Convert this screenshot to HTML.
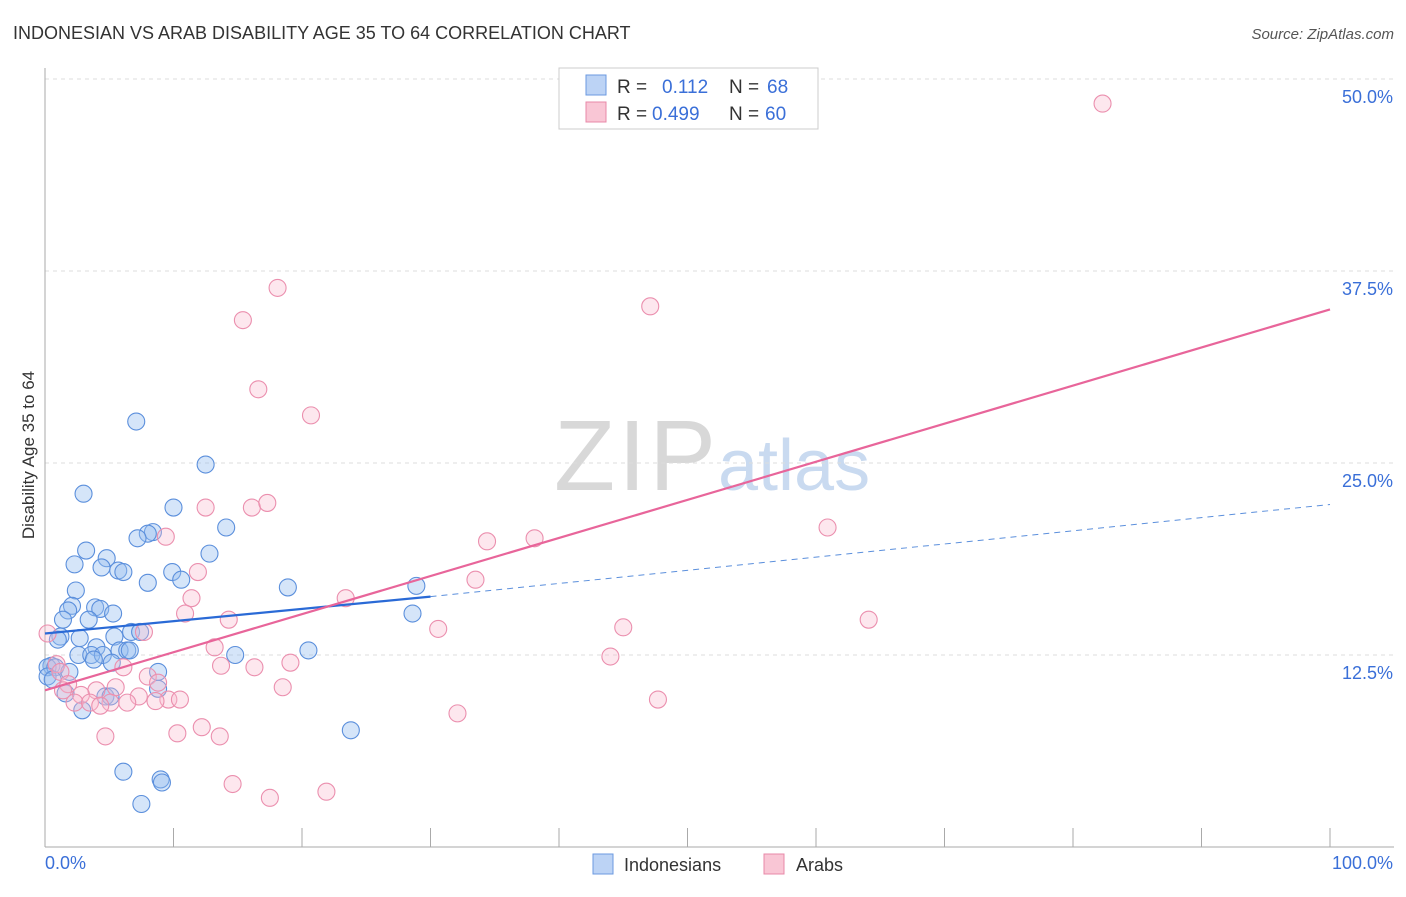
<!DOCTYPE html>
<html><head><meta charset="utf-8"><style>
body{margin:0;background:#fff;font-family:"Liberation Sans",sans-serif;}
svg text{font-family:"Liberation Sans",sans-serif;}
</style></head><body>
<svg id="chart" width="1406" height="892">
<text x="13" y="39" font-size="18" fill="#333">INDONESIAN VS ARAB DISABILITY AGE 35 TO 64 CORRELATION CHART</text>
<text x="1394" y="39" font-size="15" fill="#555" font-style="italic" text-anchor="end">Source: ZipAtlas.com</text>
<text x="716" y="490" font-size="100" fill="#d8d8d8" text-anchor="end" font-family="Liberation Serif" textLength="162">ZIP</text>
<text x="718" y="490" font-size="72" fill="#c9daf0">atlas</text>
<g id="grid"></g><g id="axes"></g><g id="marks"></g>
<text transform="translate(34,455) rotate(-90)" font-size="17" fill="#333" text-anchor="middle">Disability Age 35 to 64</text>
<text x="45" y="869" font-size="18" fill="#3a6fd8">0.0%</text>
<text x="1393" y="869" font-size="18" fill="#3a6fd8" text-anchor="end">100.0%</text>
<g>
<rect x="559" y="68" width="259" height="61" fill="#fff" stroke="#ccc"/>
<rect x="586" y="75" width="20" height="20" fill="#bcd3f5" stroke="#6b9ae0"/>
<rect x="586" y="102" width="20" height="20" fill="#f9c6d5" stroke="#e888a8"/>
<text x="617" y="93" font-size="19" fill="#333">R = </text><text x="662" y="93" font-size="19" fill="#3a6fd8">0.112</text>
<text x="729" y="93" font-size="19" fill="#333">N = </text><text x="767" y="93" font-size="19" fill="#3a6fd8">68</text>
<text x="617" y="120" font-size="19" fill="#333">R = </text><text x="652" y="120" font-size="19" fill="#3a6fd8">0.499</text>
<text x="729" y="120" font-size="19" fill="#333">N = </text><text x="765" y="120" font-size="19" fill="#3a6fd8">60</text>
</g>
<g><rect x="593" y="854" width="20" height="20" fill="#bcd3f5" stroke="#6b9ae0"/><text x="624" y="871" font-size="18" fill="#333">Indonesians</text></g>
<g><rect x="764" y="854" width="20" height="20" fill="#f9c6d5" stroke="#e888a8"/><text x="796" y="871" font-size="18" fill="#333">Arabs</text></g>
</svg>
<script>
const yTicks=[12.5,25,37.5,50];
const yTickLabels=["12.5%","25.0%","37.5%","50.0%"];
const xTicks=[0,10,20,30,40,50,60,70,80,90,100];
const blueX=[7.1,12.5,3.0,10.0,14.1,8.4,8.0,7.2,3.2,12.8,4.8,2.3,4.4,5.7,6.1,9.9,10.6,8.0,28.9,18.9,2.4,2.1,1.8,3.9,4.3,5.3,28.6,1.4,3.4,6.7,7.4,1.2,1.0,2.7,5.4,4.0,5.8,6.4,6.6,20.5,2.6,3.6,4.5,14.8,3.8,5.2,0.5,0.2,0.8,1.9,8.8,0.2,0.6,8.8,1.6,4.7,5.1,2.9,23.8,6.1,9.0,9.1,7.5];
const blueY=[27.7,24.9,23.0,22.1,20.8,20.5,20.4,20.1,19.3,19.1,18.8,18.4,18.2,18.0,17.9,17.9,17.4,17.2,17.0,16.9,16.7,15.7,15.4,15.6,15.5,15.2,15.2,14.8,14.8,14.0,14.0,13.7,13.5,13.6,13.7,13.0,12.8,12.8,12.8,12.8,12.5,12.5,12.5,12.5,12.2,12.0,11.8,11.7,11.7,11.4,11.4,11.1,10.9,10.3,10.0,9.8,9.8,8.9,7.6,4.9,4.4,4.2,2.8];
const pinkX=[82.3,18.1,47.1,15.4,16.6,20.7,12.5,16.1,17.3,60.9,9.4,34.4,38.1,11.9,33.5,11.4,23.4,10.9,14.3,64.1,45.0,30.6,7.7,0.2,13.2,44.0,19.1,13.7,16.3,6.1,0.9,1.2,8.0,8.8,1.8,18.5,5.5,4.0,1.4,2.8,7.3,9.6,10.5,47.7,8.6,6.4,2.3,3.5,5.1,4.3,32.1,12.2,10.3,4.7,13.6,14.6,17.5,21.9];
const pinkY=[48.4,36.4,35.2,34.3,29.8,28.1,22.1,22.1,22.4,20.8,20.2,19.9,20.1,17.9,17.4,16.2,16.2,15.2,14.8,14.8,14.3,14.2,14.0,13.9,13.0,12.4,12.0,11.8,11.7,11.7,11.9,11.4,11.1,10.7,10.6,10.4,10.4,10.2,10.2,9.9,9.8,9.6,9.6,9.6,9.5,9.4,9.4,9.4,9.4,9.2,8.7,7.8,7.4,7.2,7.2,4.1,3.2,3.6];
const blueTrend=[13.9,16.3,22.3];
const pinkTrend=[10.2,35.0];
const NS="http://www.w3.org/2000/svg";
const sx=v=>45+v*12.85;
const sy=v=>847-v*15.36;
function mk(tag,attrs,parent){const e=document.createElementNS(NS,tag);for(const k in attrs)e.setAttribute(k,attrs[k]);document.getElementById(parent).appendChild(e);return e;}
yTicks.forEach((t,i)=>{
 const g=mk('line',{x1:45,x2:1394,y1:sy(t),y2:sy(t),stroke:'#ddd','stroke-dasharray':'4,4'},'grid');
 
 
 const l=mk('text',{x:1393,y:sy(t)+24,'font-size':18,fill:'#3a6fd8','text-anchor':'end'},'grid');
 l.textContent=yTickLabels[i];
 
 
});
const ax=mk('line',{x1:45,x2:45,y1:68,y2:847,stroke:'#aaa'},'axes');


const bx=mk('line',{x1:45,x2:1394,y1:847,y2:847,stroke:'#aaa'},'axes');


xTicks.forEach(t=>{
 const k=mk('line',{x1:sx(t),x2:sx(t),y1:828,y2:847,stroke:'#aaa'},'axes');
 
 
});
blueX.forEach((x,i)=>{
 const c=mk('circle',{cx:sx(x),cy:sy(blueY[i]),r:8.5,fill:'rgba(150,190,240,0.4)',stroke:'#5b8fdc','stroke-width':1.1},'marks');
 
 
});
pinkX.forEach((x,i)=>{
 const c=mk('circle',{cx:sx(x),cy:sy(pinkY[i]),r:8.5,fill:'rgba(248,185,205,0.35)',stroke:'#eb8fae','stroke-width':1.1},'marks');
 
 
});
const b1=mk('line',{x1:sx(0),y1:sy(blueTrend[0]),x2:sx(30),y2:sy(blueTrend[1]),stroke:'#2a6ad6','stroke-width':2.2},'marks');


const b2=mk('line',{x1:sx(30),y1:sy(blueTrend[1]),x2:sx(100),y2:sy(blueTrend[2]),stroke:'#5b8fdc','stroke-width':1,'stroke-dasharray':'6,5'},'marks');


const p1=mk('line',{x1:sx(0),y1:sy(pinkTrend[0]),x2:sx(100),y2:sy(pinkTrend[1]),stroke:'#e8659a','stroke-width':2.2},'marks');


</script>
</body></html>
